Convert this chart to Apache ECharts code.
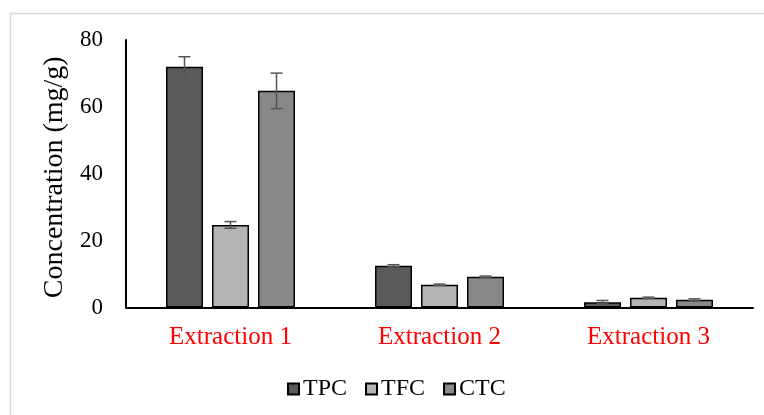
<!DOCTYPE html>
<html><head><meta charset="utf-8">
<script src="https://cdn.jsdelivr.net/npm/echarts@6/dist/echarts.min.js"></script>
<style>html,body{margin:0;padding:0;background:#fff}#c{width:764px;height:415px}</style>
</head><body><div id="c"></div>
<script>
const categories = ['Extraction 1', 'Extraction 2', 'Extraction 3'];
const seriesNames = ['TPC', 'TFC', 'CTC'];
const TPC = [72.0, 12.5, 1.6];
const TFC = [24.7, 6.8, 2.9];
const CTC = [64.8, 9.2, 2.3];
const TPC_err = [3.0, 0.3, 0.5];
const TFC_err = [1.0, 0.2, 0.2];
const CTC_err = [5.3, 0.2, 0.3];
const yTicks = [0, 20, 40, 60, 80];

const values = [TPC, TFC, CTC];
const errs = [TPC_err, TFC_err, CTC_err];
const colors = ['#5a5a5a', '#b4b4b4', '#888888'];
const BAR_W = 37, BAR_GAP = 9;
const font = '"Liberation Serif", "Times New Roman", serif';

const chart = echarts.init(document.getElementById('c'));
const series = [];
values.forEach((v, i) => {
  series.push({
    name: seriesNames[i], type: 'bar', data: v, barWidth: BAR_W,
    barGap: (BAR_GAP / BAR_W * 100) + '%',
    itemStyle: { color: colors[i], borderColor: '#000', borderWidth: 1.5 },
    emphasis: { disabled: true }, z: 2
  });
});
values.forEach((v, i) => {
  series.push({
    type: 'custom', name: seriesNames[i] + ' err', z: 5,
    data: v.map((val, k) => [k, val - errs[i][k], val + errs[i][k]]),
    renderItem: function (params, api) {
      const k = api.value(0);
      const off = (i - 1) * (BAR_W + BAR_GAP);
      const lo = api.coord([k, api.value(1)]);
      const hi = api.coord([k, api.value(2)]);
      const x = lo[0] + off;
      const hw = 6;
      const st = { stroke: '#555', lineWidth: 1.5 };
      return { type: 'group', children: [
        { type: 'line', shape: { x1: x, y1: lo[1], x2: x, y2: hi[1] }, style: st },
        { type: 'line', shape: { x1: x - hw, y1: lo[1], x2: x + hw, y2: lo[1] }, style: st },
        { type: 'line', shape: { x1: x - hw, y1: hi[1], x2: x + hw, y2: hi[1] }, style: st }
      ]};
    },
    silent: true, tooltip: { show: false }
  });
});

chart.setOption({
  animation: false,
  backgroundColor: '#fff',
  graphic: [{ type: 'rect', shape: { x: 10.5, y: 13.5, width: 800, height: 500 },
    style: { fill: 'none', stroke: '#d9d9d9', lineWidth: 1.5 }, silent: true, z: -10 }],
  grid: { left: 126, right: 11, top: 40, bottom: 107.5, containLabel: false },
  legend: {
    data: seriesNames.map(n => ({ name: n })),
    top: 372, left: 282, itemWidth: 11, itemHeight: 11, itemGap: 18,
    textStyle: { fontFamily: font, fontSize: 24, color: '#000', padding: [0, 0, 0, -1] },
    icon: 'rect'
  },
  xAxis: {
    type: 'category', data: categories,
    axisLine: { lineStyle: { color: '#000', width: 2 } },
    axisTick: { show: false },
    axisLabel: { color: '#ff0000', fontFamily: font, fontSize: 25, margin: 17 }
  },
  yAxis: {
    type: 'value', min: yTicks[0], max: yTicks[yTicks.length - 1], interval: 20,
    name: 'Concentration (mg/g)', nameLocation: 'middle', nameGap: 54,
    nameTextStyle: { fontFamily: font, fontSize: 28, color: '#000', padding: [0, 7, 0, 0] },
    axisLine: { show: true, lineStyle: { color: '#000', width: 2 } },
    axisTick: { show: false }, splitLine: { show: false },
    axisLabel: { color: '#000', fontFamily: font, fontSize: 23, margin: 23 }
  },
  series: series
});
</script></body></html>
